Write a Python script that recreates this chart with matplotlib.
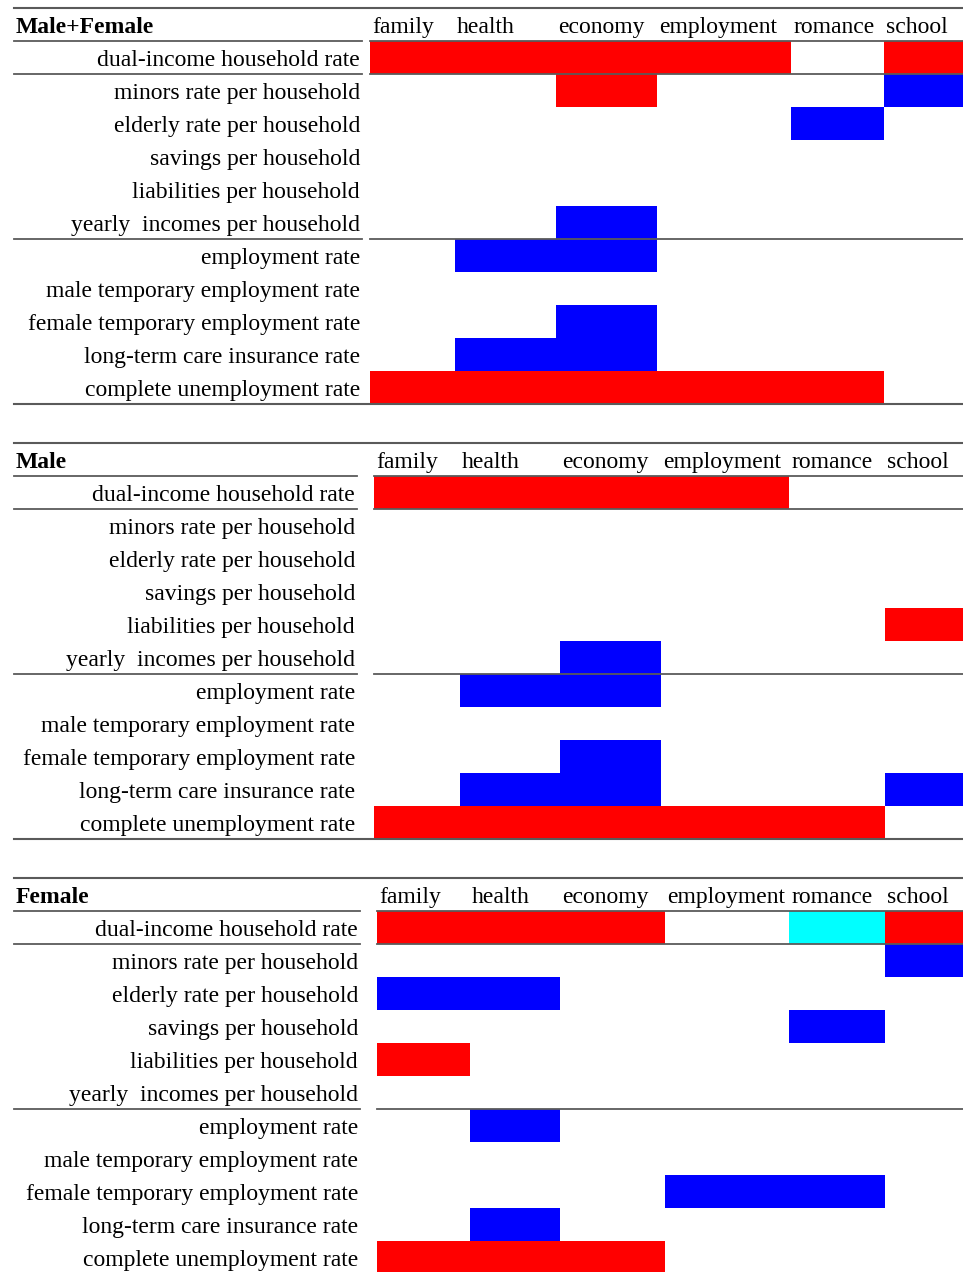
import numpy as np
import matplotlib
matplotlib.use('Agg')
import matplotlib.pyplot as plt
from matplotlib.colors import ListedColormap, BoundaryNorm

plt.rcParams['font.family'] = ['Liberation Serif', 'DejaVu Serif']

# ---------------------------------------------------------------- data
topics = ['family', 'health', 'economy', 'employment', 'romance', 'school']
indicators = ['dual-income household rate',
              'minors rate per household',
              'elderly rate per household',
              'savings per household',
              'liabilities per household',
              'yearly  incomes per household',
              'employment rate',
              'male temporary employment rate',
              'female temporary employment rate',
              'long-term care insurance rate',
              'complete unemployment rate']
groups = ['Male+Female', 'Male', 'Female']

# 1 = positive (red), -1 = negative (blue), 2 = cyan, 0 = none
both = [[1, 1, 1, 1, 0, 1],
        [0, 0, 1, 0, 0, -1],
        [0, 0, 0, 0, -1, 0],
        [0, 0, 0, 0, 0, 0],
        [0, 0, 0, 0, 0, 0],
        [0, 0, -1, 0, 0, 0],
        [0, -1, -1, 0, 0, 0],
        [0, 0, 0, 0, 0, 0],
        [0, 0, -1, 0, 0, 0],
        [0, -1, -1, 0, 0, 0],
        [1, 1, 1, 1, 1, 0]]
male = [[1, 1, 1, 1, 0, 0],
        [0, 0, 0, 0, 0, 0],
        [0, 0, 0, 0, 0, 0],
        [0, 0, 0, 0, 0, 0],
        [0, 0, 0, 0, 0, 1],
        [0, 0, -1, 0, 0, 0],
        [0, -1, -1, 0, 0, 0],
        [0, 0, 0, 0, 0, 0],
        [0, 0, -1, 0, 0, 0],
        [0, -1, -1, 0, 0, -1],
        [1, 1, 1, 1, 1, 0]]
female = [[1, 1, 1, 0, 2, 1],
          [0, 0, 0, 0, 0, -1],
          [-1, -1, 0, 0, 0, 0],
          [0, 0, 0, 0, -1, 0],
          [1, 0, 0, 0, 0, 0],
          [0, 0, 0, 0, 0, 0],
          [0, -1, 0, 0, 0, 0],
          [0, 0, 0, 0, 0, 0],
          [0, 0, 0, -1, -1, 0],
          [0, -1, 0, 0, 0, 0],
          [1, 1, 1, 0, 0, 0]]
tables = [both, male, female]

# ---------------------------------------------------------------- layout (pixels)
W, H = 963, 1272
row_h = 33
tops = [8, 443, 878]
col_edges = [[370, 455, 556, 657, 791, 884, 963],
             [374, 460, 560, 661, 789, 885, 963],
             [377, 470, 560, 665, 789, 885, 963]]
label_right = [360, 355, 358]
lab_line_end = [362, 357, 360]
line_c = '#5a5a5a'
fs = 17
dy = 3  # text baseline nudge

cmap = ListedColormap(['#0000FF', '#FFFFFF', '#FF0000', '#00FFFF'])
norm = BoundaryNorm([-1.5, -0.5, 0.5, 1.5, 2.5], cmap.N)

fig = plt.figure(figsize=(W / 100, H / 100), dpi=100)
ax = fig.add_axes([0, 0, 1, 1])
ax.set_xlim(0, W)
ax.set_ylim(H, 0)
ax.axis('off')

for p in range(3):
    top = tops[p]
    xe = np.array(col_edges[p])
    ye = top + row_h * (1 + np.arange(len(indicators) + 1))
    vals = np.ma.masked_equal(np.array(tables[p]), 0)
    ax.pcolormesh(xe, ye, vals, cmap=cmap, norm=norm, zorder=1)

    # header
    ax.text(16, top + row_h / 2 + dy, groups[p], fontsize=fs, fontweight='bold',
            ha='left', va='center')
    for j, t in enumerate(topics):
        ax.text(xe[j] + 2, top + row_h / 2 + dy, t, fontsize=fs,
                ha='left', va='center')
    for i, lab in enumerate(indicators):
        ax.text(label_right[p], ye[i] + row_h / 2 + dy, lab, fontsize=fs,
                ha='right', va='center')

    # rules
    ax.plot([14, W], [top, top], color=line_c, lw=1.5, zorder=3)
    for y in [ye[0], ye[1], ye[6]]:
        ax.plot([14, lab_line_end[p]], [y, y], color=line_c, lw=1.3, zorder=3)
        ax.plot([xe[0], W], [y, y], color=line_c, lw=1.3, zorder=3)
    ax.plot([14, W], [ye[-1], ye[-1]], color=line_c, lw=1.5, zorder=3)

fig.savefig('out.png', dpi=100)
